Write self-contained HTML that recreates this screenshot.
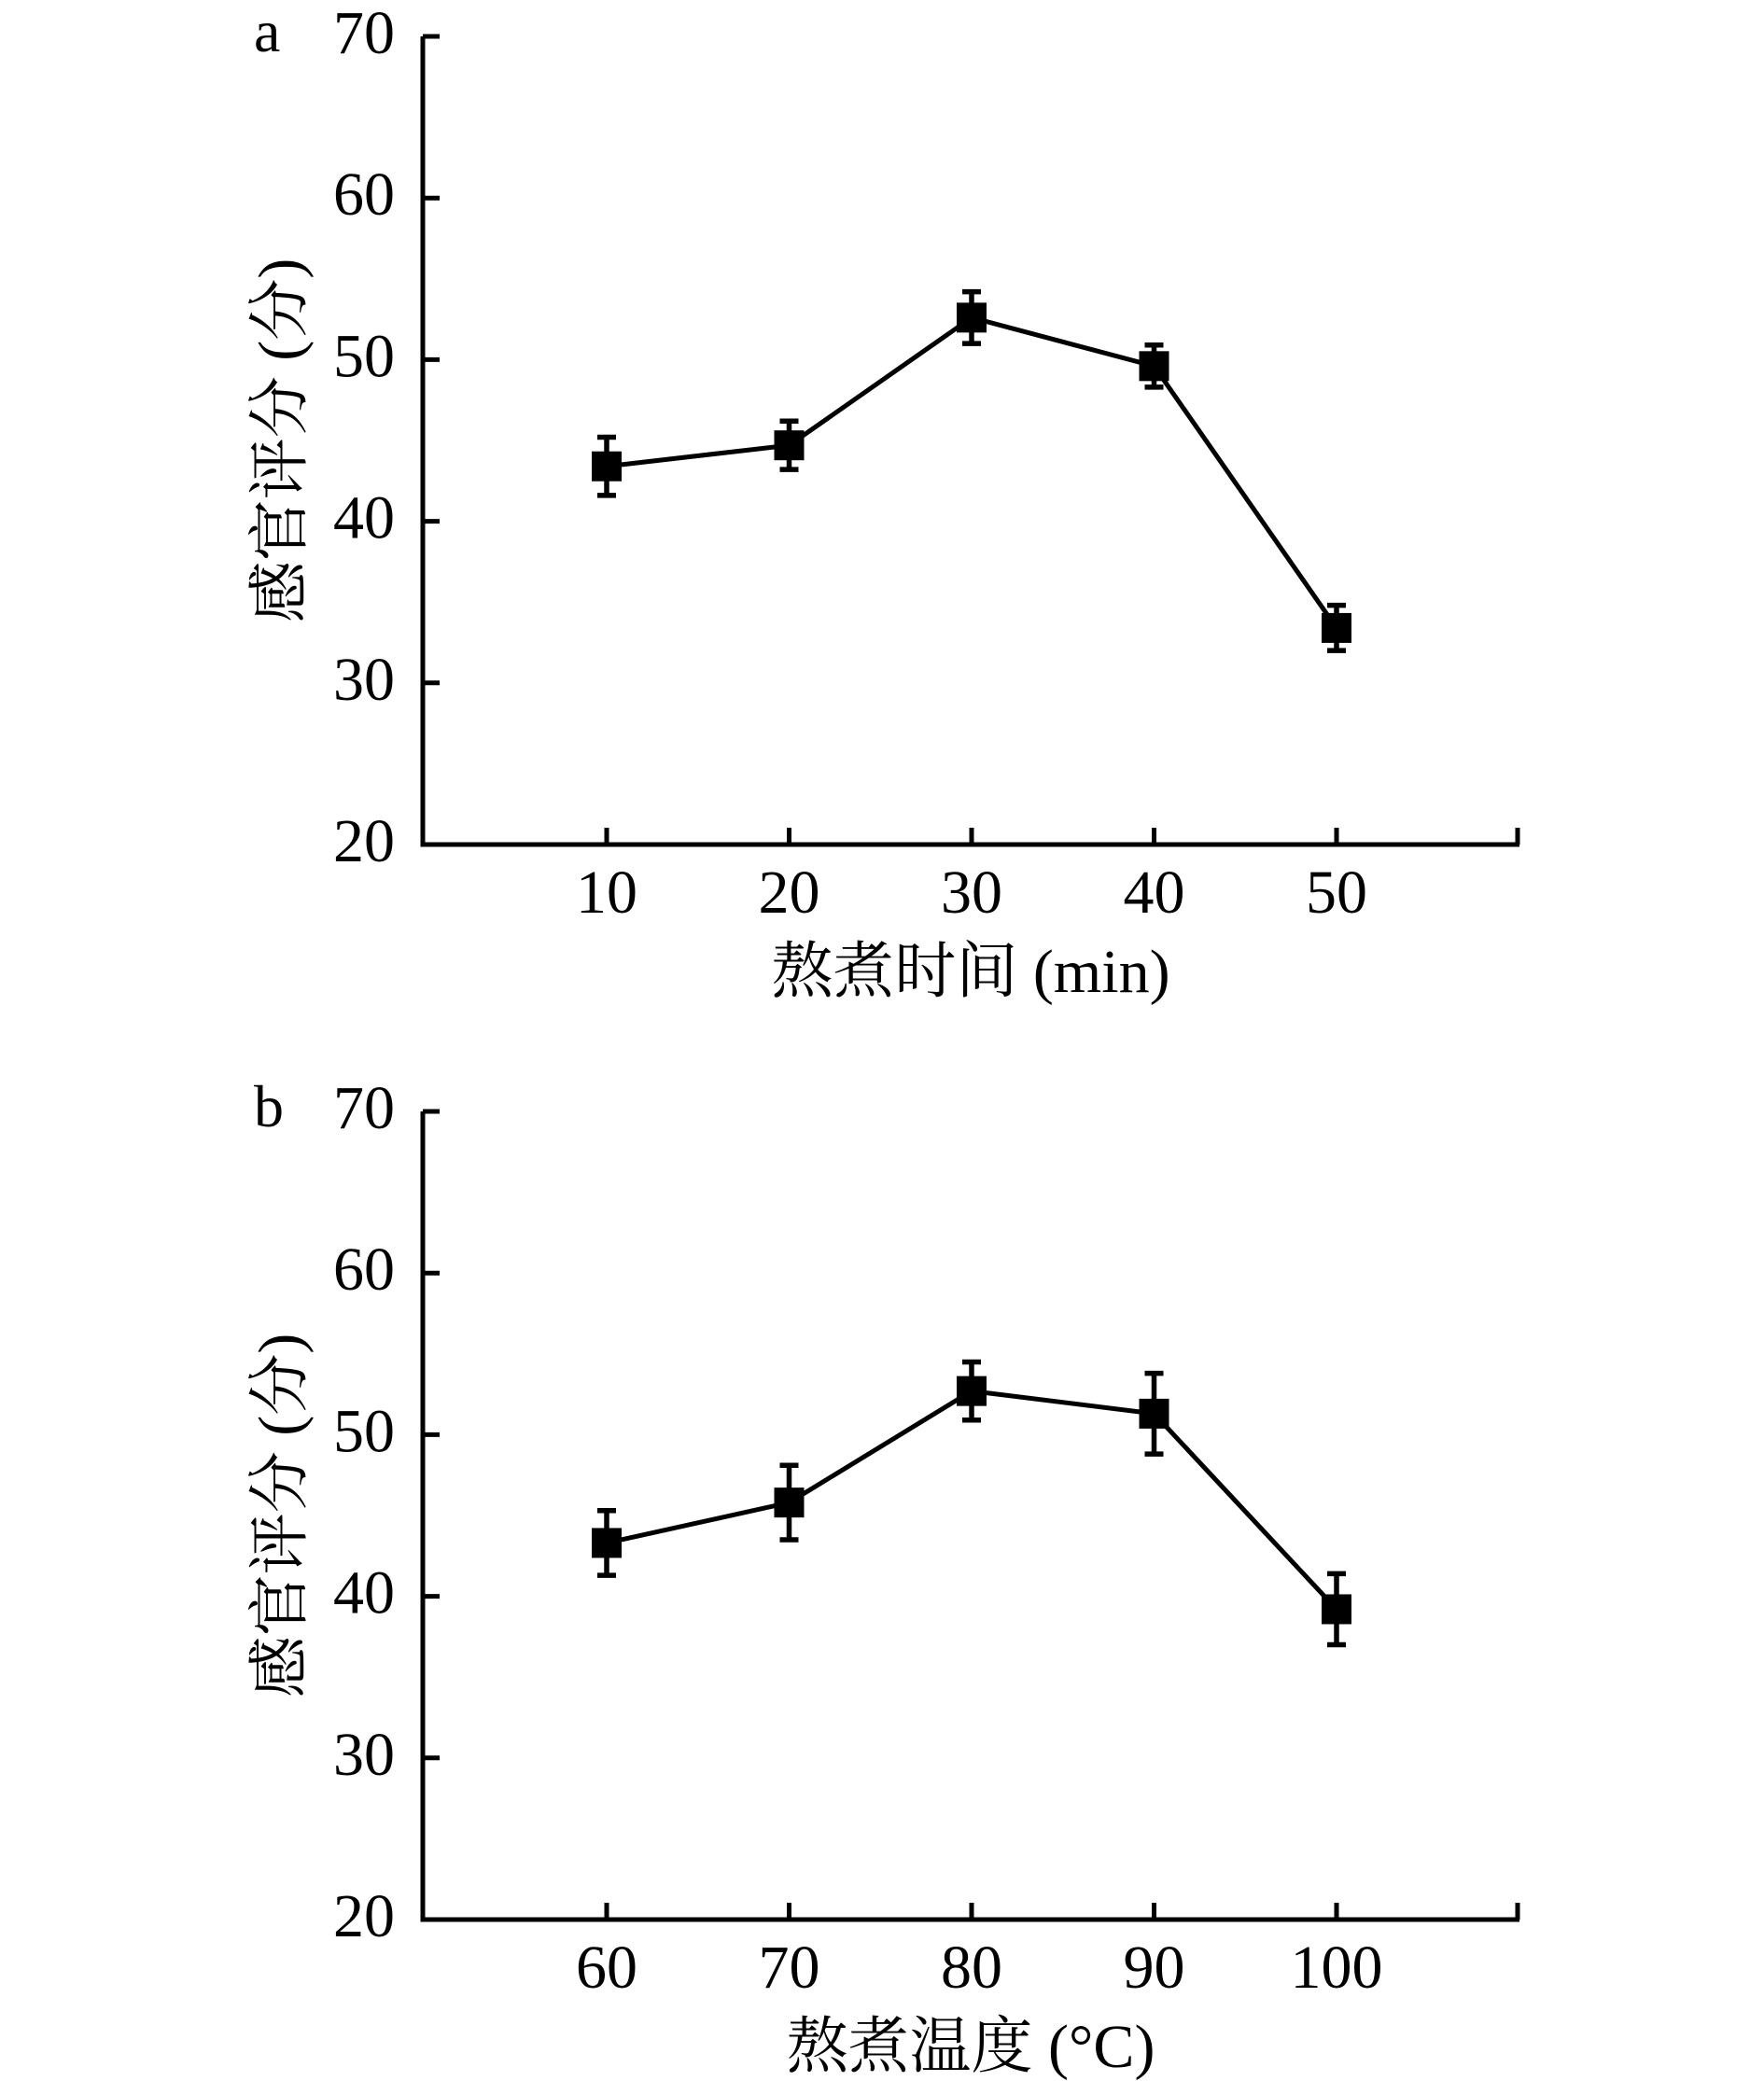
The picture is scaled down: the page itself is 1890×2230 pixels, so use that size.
<!DOCTYPE html>
<html><head><meta charset="utf-8"><style>
html,body{margin:0;padding:0;background:#fff;}
svg{display:block;}
text{font-family:"Liberation Serif","Noto Serif CJK SC",serif;fill:#000;}
</style></head><body>
<svg id="chart" width="1890" height="2230" viewBox="0 0 1890 2230"></svg>
<script>
const xLabelsA = ["10","20","30","40","50"];
const meansA = [43.4, 44.7, 52.6, 49.6, 33.4];
const errA = [1.8, 1.5, 1.6, 1.3, 1.4];
const xLabelsB = ["60","70","80","90","100"];
const meansB = [43.3, 45.8, 52.7, 51.3, 39.2];
const errB = [2.0, 2.3, 1.8, 2.5, 2.2];
const yTicks = [20, 30, 40, 50, 60, 70];

const NS = "http://www.w3.org/2000/svg";
const svg = document.getElementById("chart");
function mk(tag, attrs, parent) {
  const e = document.createElementNS(NS, tag);
  for (const k in attrs) e.setAttribute(k, attrs[k]);
  (parent || svg).appendChild(e);
  return e;
}

function panel(offY, letter, labels, means, errs, xTitle, key) {
  const g = mk("g", {});
  
  
  const x0 = 453, xEnd = 1628, yTop = 39 + offY, yBot = 905 + offY;
  const xFirst = 650, xStep = 195.5;
  const xs = i => xFirst + i * xStep;
  const ys = v => yBot - (v - 20) / 50 * (yBot - yTop);

  const axis = mk("path", {d: `M${x0} ${yTop} L${x0} ${yBot} L${xEnd} ${yBot}`, fill: "none", stroke: "#000", "stroke-width": 5}, g);
  
  

  yTicks.forEach(t => {
    const y = ys(t);
    const tk = mk("line", {x1: x0, x2: x0 + 18, y1: y, y2: y, stroke: "#000", "stroke-width": 5}, g);
    
    
    const tl = mk("text", {x: 423, y: y + 18, "font-size": 66, "text-anchor": "end"}, g);
    tl.textContent = t;
    
    
  });
  labels.forEach((l, i) => {
    const x = xs(i);
    const tk = mk("line", {x1: x, x2: x, y1: yBot, y2: yBot - 18, stroke: "#000", "stroke-width": 5}, g);
    
    
    const tl = mk("text", {x: x, y: yBot + 73, "font-size": 66, "text-anchor": "middle"}, g);
    tl.textContent = l;
    
    
  });
  const endTk = mk("line", {x1: xEnd - 2, x2: xEnd - 2, y1: yBot, y2: yBot - 18, stroke: "#000", "stroke-width": 5}, g);
  
  

  const pts = means.map((m, i) => `${xs(i)},${ys(m)}`).join(" ");
  const line = mk("polyline", {points: pts, fill: "none", stroke: "#000", "stroke-width": 5}, g);
  
  

  means.forEach((m, i) => {
    const x = xs(i), y = ys(m), e = errs[i];
    const eb = mk("path", {d: `M${x} ${ys(m + e)} L${x} ${ys(m - e)} M${x - 10} ${ys(m + e)} L${x + 10} ${ys(m + e)} M${x - 10} ${ys(m - e)} L${x + 10} ${ys(m - e)}`, stroke: "#000", "stroke-width": 5.5, fill: "none"}, g);
    
    
    const r = mk("rect", {x: x - 16, y: y - 16, width: 32, height: 32, fill: "#000"}, g);
    
    
  });

  const lt = mk("text", {x: 272, y: 55 + offY, "font-size": 64}, g);
  lt.textContent = letter;
  
  

  const yt = mk("text", {x: 0, y: 0, "font-size": 66, "text-anchor": "middle", transform: `translate(322 ${472 + offY}) rotate(-90)`}, g);
  yt.textContent = "感官评分 (分)";
  
  

  const xt = mk("text", {x: 1040, y: yBot + 158, "font-size": 66, "text-anchor": "middle"}, g);
  xt.textContent = xTitle;
  
  
}
panel(0, "a", xLabelsA, meansA, errA, "熬煮时间 (min)", "a");
panel(1152, "b", xLabelsB, meansB, errB, "熬煮温度 (°C)", "b");
</script>
</body></html>
